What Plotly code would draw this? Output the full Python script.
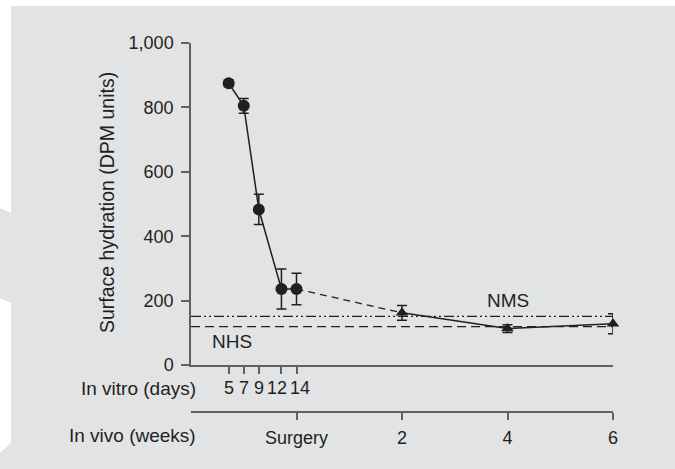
import plotly.graph_objects as go

# ---------------- data ----------------
vitro_days = [5, 7, 9, 12, 14]
vitro_vals = [875, 805, 483, 236, 236]
vitro_err = [10, 23, 47, 62, 49]

vivo_days = [14, 28, 42, 56]          # surgery = day 14; weeks 2, 4, 6
vivo_vals = [236, 162, 113, 128]
vivo_err = [None, 23, 12, 31]

NMS = 151
NHS = 119

y_ticks = [0, 200, 400, 600, 800, 1000]
y_ticktext = ["0", "200", "400", "600", "800", "1,000"]
vitro_ticks = [5, 7, 9, 12, 14]
vitro_ticktext = ["5", "7", "9", "12", "14"]
vivo_ticks = [14, 28, 42, 56]
vivo_ticktext = ["Surgery", "2", "4", "6"]

# ---------------- layout helpers ----------------
W, H = 675, 469
L, R, T, B = 191, 62, 43, 57
PW, PH = W - L - R, H - T - B


def px_x(px):
    return (px - L) / PW


def px_y(py):
    return (H - B - py) / PH


FONT = "Liberation Sans, Arial, sans-serif"
TXT = "#231f20"
AX = "#5f6062"
BG = "#e2e3e5"
FN = 18    # numbers
FW = 19    # words

fig = go.Figure()

# reference lines
fig.add_trace(go.Scatter(x=[0, 56], y=[NMS, NMS], mode="lines",
                         line=dict(color=TXT, width=1.3, dash="10px,3px,2px,3px,2px,3px"),
                         hoverinfo="skip"))
fig.add_trace(go.Scatter(x=[0, 56], y=[NHS, NHS], mode="lines",
                         line=dict(color=TXT, width=1.3, dash="9px,5px"),
                         hoverinfo="skip"))

# dashed connector from last in-vitro point to first in-vivo measurement
fig.add_trace(go.Scatter(x=vivo_days[:2], y=vivo_vals[:2], mode="lines",
                         line=dict(color=TXT, width=1.3, dash="7px,5px"),
                         hoverinfo="skip", cliponaxis=False))

# in vivo (triangles)
fig.add_trace(go.Scatter(x=vivo_days[1:], y=vivo_vals[1:], mode="lines+markers",
                         line=dict(color=TXT, width=1.5),
                         marker=dict(symbol="triangle-up", size=11, color=TXT),
                         error_y=dict(type="data", array=vivo_err[1:], color=TXT,
                                      thickness=1.5, width=5),
                         cliponaxis=False))

# in vitro (circles)
fig.add_trace(go.Scatter(x=vitro_days, y=vitro_vals, mode="lines+markers",
                         line=dict(color=TXT, width=1.5),
                         marker=dict(symbol="circle", size=12, color=TXT),
                         error_y=dict(type="data", array=vitro_err, color=TXT,
                                      thickness=1.5, width=5),
                         cliponaxis=False))

# dummy trace to register the second x axis
fig.add_trace(go.Scatter(x=[], y=[], xaxis="x2", yaxis="y", hoverinfo="skip"))

y_dom0 = px_y(365)

# background shape (gray panel with notched left edge)
pts = [(11, 6), (675, 6), (675, 469), (0, 469), (0, 453), (11, 443),
       (11, 303), (0, 298), (0, 208), (11, 213)]
path = "M " + " L ".join(f"{px_x(a):.5f},{px_y(b):.5f}" for a, b in pts) + " Z"

axis_common = dict(showgrid=False, zeroline=False, showline=True, linecolor=AX,
                   linewidth=1.5, ticks="outside", tickwidth=1.5, tickcolor=AX,
                   tickfont=dict(family=FONT, size=FN, color=TXT), tickangle=0)

# in-vitro day labels as annotations (12 and 14 are nudged apart, as in the original)
shifts = {12: -4, 14: 3}
day_labels = [dict(text=t, x=v, xref="x", yref="paper", y=px_y(388),
                   xanchor="center", yanchor="middle", xshift=shifts.get(v, 0),
                   showarrow=False, font=dict(size=FN))
              for v, t in zip(vitro_ticks, vitro_ticktext)]

fig.update_layout(
    width=W, height=H, autosize=False,
    margin=dict(l=L, r=R, t=T, b=B, pad=0),
    paper_bgcolor="white", plot_bgcolor="rgba(0,0,0,0)",
    showlegend=False,
    font=dict(family=FONT, size=FW, color=TXT),
    shapes=[dict(type="path", path=path, xref="paper", yref="paper",
                 fillcolor=BG, line=dict(width=0), layer="below")],
    xaxis=dict(range=[0, 56], anchor="y", ticklen=7,
               tickvals=vitro_ticks, showticklabels=False, **axis_common),
    xaxis2=dict(range=[0, 56], overlaying="x", anchor="free", position=0, side="bottom",
                ticklen=7, tickvals=vivo_ticks, ticktext=vivo_ticktext,
                ticklabelstandoff=3, **axis_common),
    yaxis=dict(range=[0, 1000], domain=[y_dom0, 1], ticklen=8,
               tickvals=y_ticks, ticktext=y_ticktext,
               ticklabelstandoff=4, **axis_common),
    annotations=[
        dict(text="Surface hydration (DPM units)", textangle=-90, xref="paper", yref="paper",
             x=px_x(107), y=px_y(203), xanchor="center", yanchor="middle",
             showarrow=False, font=dict(size=FW + 0.5)),
        dict(text="In vitro (days)", xref="paper", yref="paper",
             x=px_x(198), y=px_y(388), xanchor="right", yanchor="middle",
             showarrow=False, font=dict(size=FW)),
        dict(text="In vivo (weeks)", xref="paper", yref="paper",
             x=px_x(198), y=px_y(436), xanchor="right", yanchor="middle",
             showarrow=False, font=dict(size=FW)),
        dict(text="NMS", x=42, y=199, xref="x", yref="y",
             xanchor="center", yanchor="middle", showarrow=False, font=dict(size=FW)),
        dict(text="NHS", x=5.5, y=74, xref="x", yref="y",
             xanchor="center", yanchor="middle", showarrow=False, font=dict(size=FW)),
    ] + day_labels,
)

fig.write_html("out.html")
